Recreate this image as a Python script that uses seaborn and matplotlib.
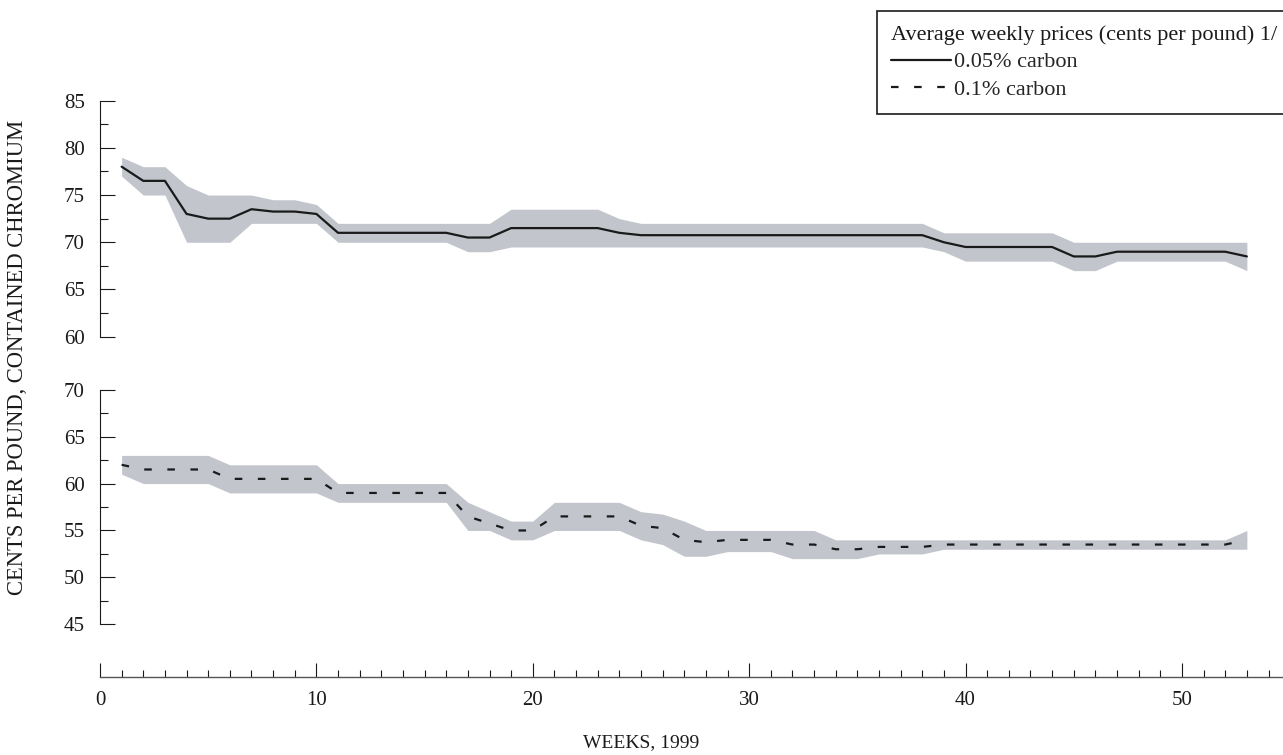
"""
Chromium prices 1999: average weekly prices with weekly range bands,
two panels (0.05% carbon / 0.1% carbon) sharing one week axis.
"""
import matplotlib
matplotlib.use("Agg")
import matplotlib.pyplot as plt
from matplotlib.lines import Line2D
from matplotlib.ticker import MultipleLocator
import pandas as pd
import seaborn as sns

sns.set_theme(style="ticks")
plt.rcParams["font.family"] = ["Liberation Serif", "DejaVu Serif"]
plt.rcParams["lines.dashed_pattern"] = [3.4, 7.0]

# ---- data ----
weeks = list(range(1, 54))

c005_avg = [78, 76.5, 76.5, 73, 72.5, 72.5, 73.5, 73.25, 73.25, 73,
            71, 71, 71, 71, 71, 71,
            70.5, 70.5,
            71.5, 71.5, 71.5, 71.5, 71.5,
            71,
            70.75, 70.75, 70.75, 70.75, 70.75, 70.75, 70.75,
            70.75, 70.75, 70.75, 70.75, 70.75, 70.75, 70.75,
            70,
            69.5, 69.5, 69.5, 69.5, 69.5,
            68.5, 68.5,
            69, 69, 69, 69, 69, 69,
            68.5]
c005_high = [79, 78, 78, 76, 75, 75, 75, 74.5, 74.5, 74,
             72, 72, 72, 72, 72, 72, 72, 72,
             73.5, 73.5, 73.5, 73.5, 73.5,
             72.5,
             72, 72, 72, 72, 72, 72, 72, 72, 72, 72, 72, 72, 72, 72,
             71, 71, 71, 71, 71, 71,
             70, 70, 70, 70, 70, 70, 70, 70, 70]
c005_low = [77, 75, 75, 70, 70, 70, 72, 72, 72, 72,
            70, 70, 70, 70, 70, 70,
            69, 69,
            69.5, 69.5, 69.5, 69.5, 69.5, 69.5, 69.5, 69.5, 69.5, 69.5,
            69.5, 69.5, 69.5, 69.5, 69.5, 69.5, 69.5, 69.5, 69.5, 69.5,
            69,
            68, 68, 68, 68, 68,
            67, 67,
            68, 68, 68, 68, 68, 68,
            67]

c01_avg = [62, 61.5, 61.5, 61.5, 61.5,
           60.5, 60.5, 60.5, 60.5, 60.5,
           59, 59, 59, 59, 59, 59,
           56.5, 55.75, 55, 55,
           56.5, 56.5, 56.5, 56.5,
           55.5, 55.25, 54, 53.75, 54, 54, 54,
           53.5, 53.5, 53, 53, 53.25, 53.25, 53.25,
           53.5, 53.5, 53.5, 53.5, 53.5, 53.5, 53.5,
           53.5, 53.5, 53.5, 53.5, 53.5, 53.5, 53.5,
           54]
c01_high = [63, 63, 63, 63, 63,
            62, 62, 62, 62, 62,
            60, 60, 60, 60, 60, 60,
            58, 57, 56, 56,
            58, 58, 58, 58,
            57, 56.75, 56,
            55, 55, 55, 55, 55, 55,
            54, 54, 54, 54, 54, 54, 54, 54, 54, 54,
            54, 54, 54, 54, 54, 54, 54, 54, 54,
            55]
c01_low = [61, 60, 60, 60, 60,
           59, 59, 59, 59, 59,
           58, 58, 58, 58, 58, 58,
           55, 55, 54, 54,
           55, 55, 55, 55,
           54, 53.5, 52.25, 52.25, 52.75, 52.75, 52.75,
           52, 52, 52, 52,
           52.5, 52.5, 52.5,
           53, 53, 53, 53, 53, 53, 53, 53, 53, 53, 53, 53, 53, 53, 53]

x_ticks = [0, 10, 20, 30, 40, 50]
legend_title = "Average weekly prices (cents per pound) 1/"
labels = ["0.05% carbon", "0.1% carbon"]

df = pd.DataFrame({"week": weeks,
                   "c005": c005_avg, "c005_hi": c005_high, "c005_lo": c005_low,
                   "c01": c01_avg, "c01_hi": c01_high, "c01_lo": c01_low})

BAND = "#c2c5cc"
INK = "#1a1a1a"
FS = 15
XMAX = 54.67

fig = plt.figure(figsize=(12.83, 7.55), dpi=100)
fig.patch.set_facecolor("white")
left = 100 / 1283

ax_top = fig.add_axes([left, 0.554, 1 - left, 0.3128])
ax_bot = fig.add_axes([left, 0.1731, 1 - left, 0.3107])
ax_x = fig.add_axes([left, 0.1037, 1 - left, 0.05])

panels = [(ax_top, "c005", "-", (60, 85)), (ax_bot, "c01", "--", (45, 70))]
for ax, key, ls, ylim in panels:
    ax.fill_between(df["week"], df[key + "_lo"], df[key + "_hi"],
                    color=BAND, lw=0, zorder=1)
    sns.lineplot(data=df, x="week", y=key, ax=ax, color=INK, lw=1.6,
                 linestyle=ls, zorder=2)
    ax.set_xlim(0, XMAX)
    ax.set_ylim(*ylim)
    ax.set_facecolor("none")
    for s in ("top", "right", "bottom"):
        ax.spines[s].set_visible(False)
    ax.spines["left"].set_color(INK)
    ax.spines["left"].set_linewidth(0.8)
    ax.set_xticks([])
    ax.set_xlabel("")
    ax.set_ylabel("")
    ax.yaxis.set_major_locator(MultipleLocator(5))
    ax.yaxis.set_minor_locator(MultipleLocator(2.5))
    ax.tick_params(axis="y", which="major", direction="in", length=11,
                   width=0.8, color=INK, pad=11, labelsize=FS, labelcolor=INK)
    ax.tick_params(axis="y", which="minor", direction="in", length=6,
                   width=0.8, color=INK)

# shared week axis
ax_x.set_xlim(0, XMAX)
ax_x.set_facecolor("none")
ax_x.set_yticks([])
for s in ("top", "right", "left"):
    ax_x.spines[s].set_visible(False)
ax_x.spines["bottom"].set_color("#555555")
ax_x.spines["bottom"].set_linewidth(1.0)
ax_x.set_xticks(x_ticks)
ax_x.xaxis.set_minor_locator(MultipleLocator(1))
ax_x.tick_params(axis="x", which="major", direction="in", length=10,
                 width=0.8, color=INK, pad=10, labelsize=FS, labelcolor=INK)
ax_x.tick_params(axis="x", which="minor", direction="in", length=5,
                 width=0.8, color=INK)

fig.text(0.5, 1 - 743 / 755, "WEEKS, 1999", ha="center", va="center",
         fontsize=14, color=INK)
fig.text(18 / 1283, 1 - 357 / 755, "CENTS PER POUND, CONTAINED CHROMIUM",
         rotation=90, ha="center", va="center", fontsize=16.3, color=INK)

handles = [Line2D([], [], color=INK, lw=1.6, ls="-"),
           Line2D([], [], color=INK, lw=1.6, ls="--")]
leg = fig.legend(handles, labels, title=legend_title, loc="upper left",
                 bbox_to_anchor=(877 / 1283, 1 - 11 / 755), fontsize=16,
                 title_fontsize=16, alignment="left", frameon=True,
                 fancybox=False, framealpha=1, edgecolor=INK,
                 handlelength=2.7, handletextpad=0.1, labelspacing=0.3,
                 borderpad=0.65, borderaxespad=0)
leg.get_frame().set_linewidth(1.2)
leg.get_title().set_color(INK)

fig.savefig("out.png", dpi=100, facecolor="white")
